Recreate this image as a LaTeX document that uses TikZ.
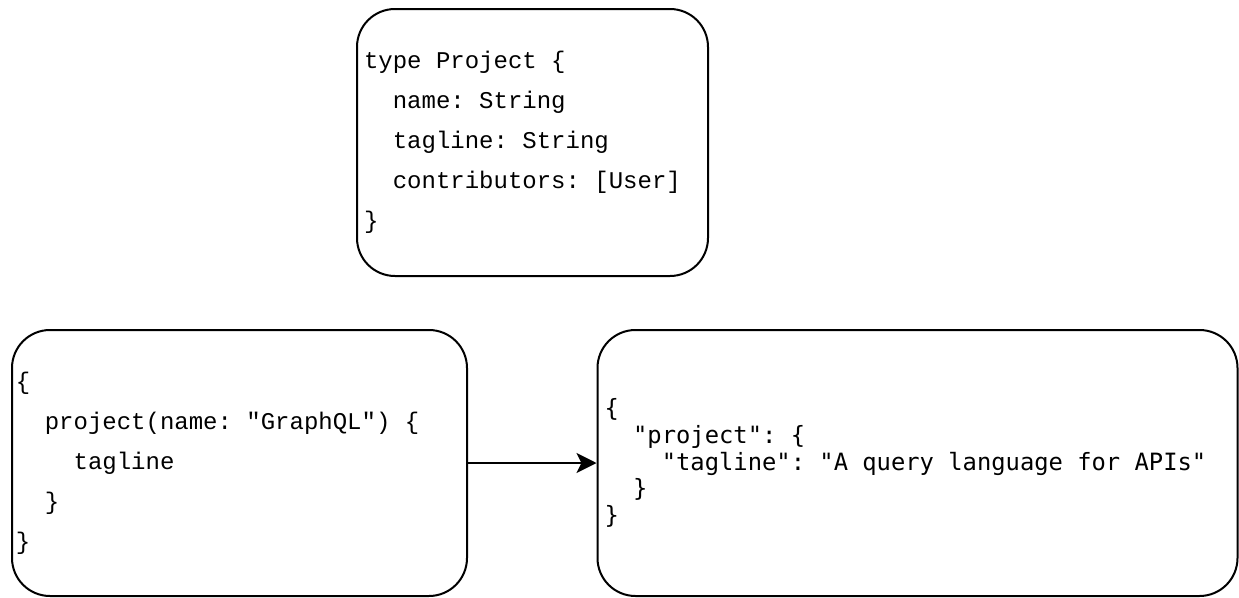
\documentclass[tikz,border=0pt]{standalone}
\usepackage{fontspec}
\newfontfamily\schemafont{Liberation Mono}
\newfontfamily\jsonfont{DejaVu Sans Mono}
\usetikzlibrary{arrows.meta}

% indentation by code columns
\newcommand{\indone}{\hphantom{xx}}
\newcommand{\indtwo}{\hphantom{xxxx}}

\tikzset{
  codebox/.style={draw, line width=2pt, rounded corners=38pt, inner ysep=0pt, align=left,
    execute at begin node={\frenchspacing\spaceskip=0pt\xspaceskip=0pt}},
  schematext/.style={font=\schemafont\fontsize{24}{40}\selectfont},
  jsontext/.style={font=\jsonfont\fontsize{23.8}{26.7}\selectfont},
  flow/.style={line width=2pt, -{Stealth[length=20pt, width=20pt, inset=5pt]}}
}

\begin{document}
\begin{tikzpicture}[x=1pt, y=-1pt]
    \useasboundingbox (0,0) rectangle (1239,597);

    % Schema box
    \node[codebox, schematext, inner xsep=7pt, text width=337pt, minimum height=267pt] (schema) at (532.5,142.5)
        {type Project \{\\
         \indone name: String\\
         \indone tagline: String\\
         \indone contributors: [User]\\
         \}};

    % Query box
    \node[codebox, schematext, inner xsep=4pt, text width=447pt, minimum height=266pt] (query) at (239.5,463)
        {\{\\
         \indone project(name: "GraphQL") \{\\
         \indtwo tagline\\
         \indone \}\\
         \}};

    % Result box
    \node[codebox, jsontext, inner xsep=7pt, text width=626pt, minimum height=266pt] (result) at (917.5,463)
        {\{\\
         \indone "project": \{\\
         \indtwo "tagline": "A query language for APIs"\\
         \indone \}\\
         \}};

    % Query goes in, result comes out
    \draw[flow] (query) -- (result);
\end{tikzpicture}
\end{document}
